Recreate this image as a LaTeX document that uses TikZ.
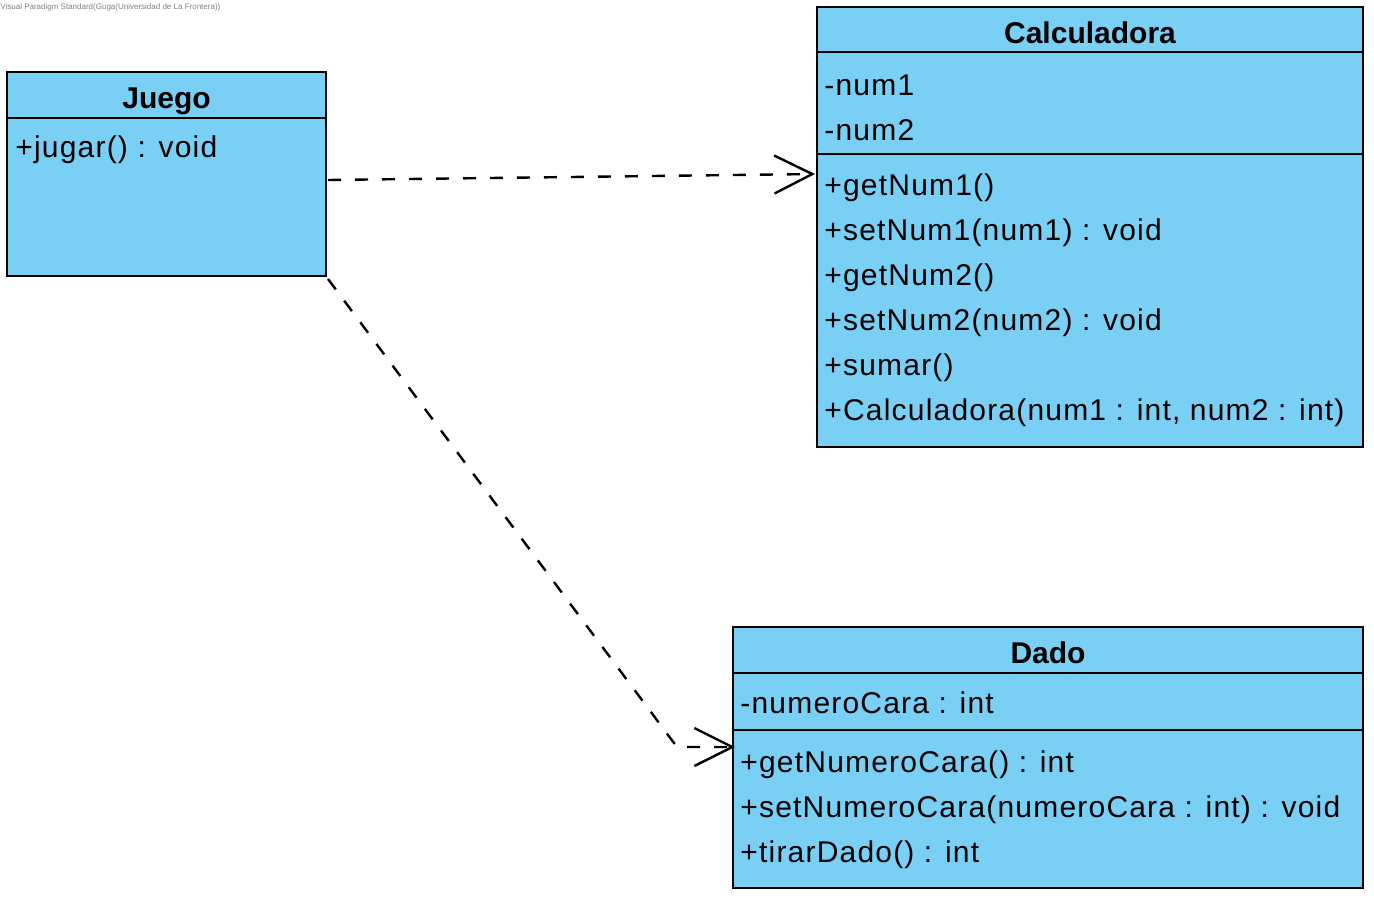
\documentclass[tikz,border=0pt]{standalone}
\usepackage{fontspec}
\setmainfont{Liberation Sans}[LetterSpace=4]
\usetikzlibrary{arrows.meta,fit}
\definecolor{umlblue}{RGB}{122,207,245}

\begin{document}
\begin{tikzpicture}[x=0.5pt,y=-0.5pt,line join=miter,
  >={Straight Barb[length=19pt,width=19pt]},
  compart/.style={draw,line width=1.2pt,fill=umlblue,inner sep=0pt},
  cname/.style={anchor=base,inner sep=0pt,
    font=\fontsize{15}{18}\selectfont\bfseries\addfontfeatures{LetterSpace=0}},
  member/.style={anchor=base west,inner sep=0pt,font=\fontsize{15}{18}\selectfont},
  dep/.style={line width=1.2pt,dash pattern=on 6.5pt off 7pt,->}]
  \useasboundingbox (0,0) rectangle (1374,900);
  \node[anchor=west,inner sep=0pt,text=gray,
    font=\fontsize{4}{5}\selectfont\addfontfeatures{LetterSpace=0}] (vpnote) at (0,7)
    {Visual Paradigm Standard(Guga(Universidad de La Frontera))};

  \node[compart,fit={(7,72) (326,118)}] (juegoT) {};
  \node[compart,fit={(7,118) (326,276)}] (juegoM) {};
  \node[cname] (juegoN) at (166.5,108) {Juego};
  \node[member] (juegom1) at (15,157) {+jugar() : void};

  \node[compart,fit={(817,7) (1363,52)}] (calcT) {};
  \node[compart,fit={(817,52) (1363,154)}] (calcA) {};
  \node[compart,fit={(817,154) (1363,447)}] (calcM) {};
  \node[cname] (calcN) at (1090,43) {Calculadora};
  \foreach \t [count=\i] in {-num1,-num2}
    \node[member] (calca\i) at (824,50+45*\i) {\t};
  \foreach \t [count=\i] in {+getNum1(),+setNum1(num1) : void,+getNum2(),
      +setNum2(num2) : void,+sumar(),{+Calculadora(num1 : int, num2 : int)}}
    \node[member] (calcm\i) at (824,150+45*\i) {\t};

  \node[compart,fit={(733,627) (1363,673)}] (dadoT) {};
  \node[compart,fit={(733,673) (1363,730)}] (dadoA) {};
  \node[compart,fit={(733,730) (1363,888)}] (dadoM) {};
  \node[cname] (dadoN) at (1048,663) {Dado};
  \node[member] (dadoa1) at (740,713) {-numeroCara : int};
  \foreach \t [count=\i] in {+getNumeroCara() : int,
      +setNumeroCara(numeroCara : int) : void,+tirarDado() : int}
    \node[member] (dadom\i) at (740,727+45*\i) {\t};

  \coordinate (juegoOut1) at (328,180);
  \coordinate (calcIn) at (815,174);
  \coordinate (juegoOut2) at (328,279);
  \coordinate (bend) at (677,747);
  \coordinate (dadoIn) at (735,747);
  \draw[dep] (juegoOut1) -- (calcIn);
  \draw[dep] (juegoOut2) -- (bend) -- (dadoIn);
\end{tikzpicture}
\end{document}
